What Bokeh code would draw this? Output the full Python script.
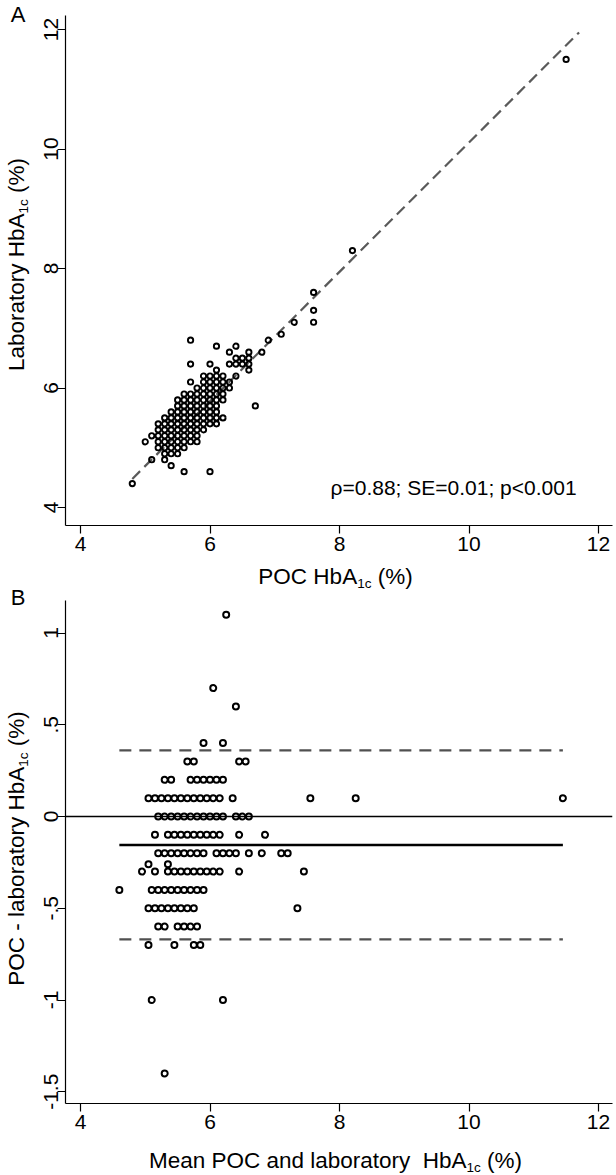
import math
from bokeh.plotting import figure
from bokeh.models import Label, Span, Range1d, FixedTicker
from bokeh.layouts import column, row
from bokeh.embed import file_html
from bokeh.resources import INLINE

FONT = "Liberation Sans"

# ---------------- data ----------------
x_ticks = [4, 6, 8, 10, 12]
a_y_ticks = [4, 6, 8, 10, 12]
b_y_ticks = [-1.5, -1, -0.5, 0, 0.5, 1]
b_y_tick_labels = ["-1.5", "-1", "-.5", "0", ".5", "1"]

# Panel A: laboratory HbA1c levels and the POC values observed at each level
lab_levels = [11.5, 8.3, 7.6, 7.3, 7.1, 6.9, 6.8, 6.7, 6.6, 6.5, 6.4, 6.3, 6.2, 6.1,
              6.0, 5.9, 5.8, 5.7, 5.6, 5.5, 5.4, 5.3, 5.2, 5.1, 5.0, 4.9, 4.8, 4.7,
              4.6, 4.4]
poc_per_level = [
    [11.5],
    [8.2],
    [7.6],
    [7.6],
    [7.3, 7.6],
    [7.1],
    [5.7, 6.9],
    [6.1, 6.4],
    [6.3, 6.6, 6.8],
    [6.4, 6.5, 6.6],
    [5.7, 6.0, 6.3, 6.4, 6.5, 6.6],
    [6.1, 6.6],
    [5.9, 6.0, 6.1, 6.2, 6.4],
    [5.7, 5.9, 6.0, 6.1, 6.2, 6.3],
    [5.8, 5.9, 6.0, 6.1, 6.2, 6.3],
    [5.6, 5.7, 5.8, 5.9, 6.0, 6.1, 6.2],
    [5.5, 5.6, 5.7, 5.8, 5.9, 6.0, 6.1, 6.2],
    [5.5, 5.6, 5.7, 5.8, 5.9, 6.0, 6.1, 6.7],
    [5.4, 5.5, 5.6, 5.7, 5.8, 5.9, 6.0, 6.1],
    [5.3, 5.4, 5.5, 5.6, 5.7, 5.8, 5.9, 6.0, 6.1, 6.2],
    [5.2, 5.3, 5.4, 5.5, 5.6, 5.7, 5.8, 5.9, 6.0, 6.1],
    [5.2, 5.3, 5.4, 5.5, 5.6, 5.7, 5.8, 5.9],
    [5.1, 5.2, 5.3, 5.4, 5.5, 5.6, 5.7, 5.8],
    [5.0, 5.2, 5.3, 5.4, 5.5, 5.6, 5.7, 5.8],
    [5.2, 5.3, 5.4, 5.5, 5.6],
    [5.3, 5.4, 5.5],
    [5.1, 5.3],
    [5.4],
    [5.6, 6.0],
    [4.8],
]
fit_intercept = -0.72
fit_slope = 1.083
fit_x_span = [4.8, 11.7]
stats_text = "\u03c1=0.88; SE=0.01; p<0.001"

# Panel B: differences (POC - lab) and the means observed at each difference
diff_levels = [1.1, 0.7, 0.6, 0.4, 0.3, 0.2, 0.1, 0.0, -0.1, -0.2, -0.26, -0.3,
               -0.4, -0.5, -0.6, -0.7, -1.0, -1.4]
mean_per_level = [
    [6.25],
    [6.05],
    [6.4],
    [5.9, 6.2],
    [5.65, 5.75, 6.45, 6.55],
    [5.3, 5.4, 5.7, 5.8, 5.9, 6.0, 6.1, 6.2],
    [5.05, 5.15, 5.25, 5.35, 5.45, 5.55, 5.65, 5.75, 5.85, 5.95, 6.05, 6.15,
     6.35, 7.55, 8.25, 11.45],
    [5.2, 5.3, 5.4, 5.5, 5.6, 5.7, 5.8, 5.9, 6.0, 6.1, 6.2, 6.4, 6.5, 6.6],
    [5.15, 5.35, 5.45, 5.55, 5.65, 5.75, 5.85, 5.95, 6.05, 6.15, 6.45, 6.85],
    [5.2, 5.3, 5.4, 5.5, 5.6, 5.7, 5.8, 5.9, 6.1, 6.2, 6.3, 6.4, 6.6, 6.8, 7.1, 7.2],
    [5.05, 5.35],
    [4.95, 5.15, 5.35, 5.45, 5.55, 5.65, 5.75, 5.85, 5.95, 6.05, 6.15, 6.45, 7.45],
    [4.6, 5.1, 5.2, 5.3, 5.4, 5.5, 5.6, 5.7, 5.8, 5.9],
    [5.05, 5.15, 5.25, 5.35, 5.45, 5.55, 5.65, 5.75, 7.35],
    [5.2, 5.3, 5.5, 5.6, 5.7, 5.8],
    [5.05, 5.45, 5.75, 5.85],
    [5.1, 6.2],
    [5.3],
]
bias = -0.155
loa_upper = 0.36
loa_lower = -0.67

# flatten
poc_a = [x for xs, y in zip(poc_per_level, lab_levels) for x in xs]
lab_a = [y for xs, y in zip(poc_per_level, lab_levels) for x in xs]
mean_b = [x for xs, y in zip(mean_per_level, diff_levels) for x in xs]
diff_b = [y for xs, y in zip(mean_per_level, diff_levels) for x in xs]

# ---------------- layout geometry (page pixels) ----------------
PXU_X = 64.75          # px per unit on x
X4_PAGE = 80.0         # page x of tick 4
A_PXU_Y = 59.75
A_Y4_PAGE = 507.0
B_PXU_Y = 183.5
B_Y0_PAGE = 816.0
FRAME_L, FRAME_R = 65.0, 612.0
LEFT_W = 30
TOTAL_W = 616
RIGHT_W = TOTAL_W - LEFT_W
BORDER_L = int(FRAME_L - LEFT_W)
BORDER_R = int(TOTAL_W - FRAME_R)
A_TOP, A_BOT, A_FIG_BOT = 15.0, 525.0, 563
A_TITLE_BOT = 592
B_TOP, B_BOT, B_FIG_BOT = 600.0, 1103.0, 1141
TOTAL_H = 1174

x_start = 4 + (FRAME_L - X4_PAGE) / PXU_X
x_end = 4 + (FRAME_R - X4_PAGE) / PXU_X

CW = {' ': 278, '(': 333, ')': 333, '%': 889, '-': 333, '.': 278, 'A': 667, 'B': 667,
      'C': 722, 'H': 722, 'L': 556, 'M': 833, 'O': 778, 'P': 667, 'E': 667, 'S': 667,
      'a': 556, 'b': 556, 'c': 500, 'd': 556, 'e': 556, 'l': 222, 'n': 556, 'o': 556,
      'r': 333, 't': 278, 'y': 500, 'p': 556, '=': 584, ';': 278, '<': 584}


def tw(s, size):
    return sum(CW.get(ch, 556) for ch in s) * size / 1000.0


TITLE = 22.5
SUB = 13.5
SUB_DROP = 6.5
SP = tw(" ", TITLE)


def lab(p, txt, x, y, size, angle=0.0, align="left", baseline="middle"):
    p.add_layout(Label(x=x, y=y, text=txt, text_font=FONT, text_font_size=f"{size}px",
                       text_align=align, text_baseline=baseline, text_color="black",
                       angle=angle))


def title_segments(main, gap_before_main):
    # main text pieces, subscript "1c", then "(%)" after a space
    segs = [(txt, TITLE, gap, 0) for txt, gap in zip(main, gap_before_main)]
    segs.append(("1c", SUB, 0, SUB_DROP))
    segs.append(("(%)", TITLE, SP, 0))
    return segs


def htitle(p, segs, cx, cy):
    total = sum(g + tw(t, s) for t, s, g, d in segs)
    x = cx - total / 2
    for t, s, g, d in segs:
        x += g
        lab(p, t, x, cy + d, s)
        x += tw(t, s)


def vtitle(p, segs, cx, cy):
    total = sum(g + tw(t, s) for t, s, g, d in segs)
    y = cy + total / 2
    for t, s, g, d in segs:
        y -= g
        lab(p, t, cx + d, y, s, angle=math.pi / 2)
        y -= tw(t, s)


def left_strip(w, h):
    # blank canvas whose data units are its own pixels (y downward)
    f = figure(width=w, height=h, x_range=Range1d(0, w), y_range=Range1d(h, 0),
               output_backend="svg", toolbar_location=None, x_axis_type=None,
               y_axis_type=None, min_border=0)
    f.outline_line_color = None
    return f


def title_strip(top, bottom):
    # blank canvas under a panel; x in page pixels over the panel frame, y in page pixels
    f = figure(width=RIGHT_W, height=bottom - top, x_range=Range1d(FRAME_L, FRAME_R),
               y_range=Range1d(bottom, top), output_backend="svg", toolbar_location=None,
               x_axis_type=None, y_axis_type=None, min_border_left=BORDER_L,
               min_border_right=BORDER_R, min_border_top=0, min_border_bottom=0)
    f.outline_line_color = None
    return f


def make_fig(height, y_range, top, bottom):
    p = figure(width=RIGHT_W, height=height, x_range=Range1d(x_start, x_end),
               y_range=Range1d(*y_range), output_backend="svg", toolbar_location=None,
               min_border_left=BORDER_L, min_border_right=BORDER_R,
               min_border_top=int(top), min_border_bottom=int(bottom))
    p.outline_line_color = None
    p.grid.visible = False
    for ax in (p.xaxis[0], p.yaxis[0]):
        ax.axis_line_color = "black"
        ax.axis_line_width = 1.2
        ax.major_tick_line_color = "black"
        ax.major_tick_line_width = 1.2
        ax.major_tick_out = 8
        ax.major_tick_in = 0
        ax.minor_tick_line_color = None
        ax.major_label_text_font = FONT
        ax.major_label_text_font_size = "21px"
        ax.major_label_text_color = "black"
    p.xaxis.ticker = FixedTicker(ticks=x_ticks)
    p.xaxis.major_label_standoff = 3
    p.yaxis.major_label_orientation = "vertical"
    p.yaxis.major_label_standoff = 0
    return p


# ---------------- Panel A ----------------
pA = make_fig(A_FIG_BOT,
              (4 + (A_Y4_PAGE - A_BOT) / A_PXU_Y, 4 + (A_Y4_PAGE - A_TOP) / A_PXU_Y),
              A_TOP, A_FIG_BOT - A_BOT)
pA.yaxis.ticker = FixedTicker(ticks=a_y_ticks)
fit_y = [fit_intercept + fit_slope * v for v in fit_x_span]
pA.line(fit_x_span, fit_y, line_color="#5a5a5a", line_width=2.2, line_dash="11 6")
pA.scatter(poc_a, lab_a, marker="circle", size=5.3, fill_color=None,
           line_color="black", line_width=1.9)
stats_x = 4 + (330 - X4_PAGE) / PXU_X
stats_y = 4 + (A_Y4_PAGE - 487) / A_PXU_Y
lab(pA, stats_text, stats_x, stats_y, 21)

tA_below = title_strip(A_FIG_BOT, A_TITLE_BOT)
htitle(tA_below, title_segments(["POC HbA"], [0]), 335, 576)

# ---------------- Panel B ----------------
B_H = B_FIG_BOT - A_TITLE_BOT
pB = make_fig(B_H, (-(B_BOT - B_Y0_PAGE) / B_PXU_Y, (B_Y0_PAGE - B_TOP) / B_PXU_Y),
              B_TOP - A_TITLE_BOT, B_FIG_BOT - B_BOT)
pB.yaxis.ticker = FixedTicker(ticks=b_y_ticks)
pB.yaxis.major_label_overrides = {t: s for t, s in zip(b_y_ticks, b_y_tick_labels)}
pB.add_layout(Span(location=0, dimension="width", line_color="black", line_width=1.3))
mx = [min(mean_b), max(mean_b)]
pB.line(mx, [loa_upper, loa_upper], line_color="#505050", line_width=2.2, line_dash="12 8")
pB.line(mx, [loa_lower, loa_lower], line_color="#505050", line_width=2.2, line_dash="12 8")
pB.line(mx, [bias, bias], line_color="black", line_width=2.6)
pB.scatter(mean_b, diff_b, marker="circle", size=6.0, fill_color=None,
           line_color="black", line_width=2.0)

tB_below = title_strip(B_FIG_BOT, TOTAL_H)
htitle(tB_below, title_segments(["Mean POC and laboratory", "HbA"], [0, 2 * SP]),
       335, 1160)

# ---------------- left strip: panel letters and y titles ----------------
t_left = left_strip(LEFT_W, TOTAL_H)
lab(t_left, "A", 17.5, 14, 22, align="center")
lab(t_left, "B", 17.5, 597, 22, align="center")
vtitle(t_left, title_segments(["Laboratory HbA"], [0]), 16, 264)
vtitle(t_left, title_segments(["POC - laboratory HbA"], [0]), 16, 848)

layout = row(t_left, column(pA, tA_below, pB, tB_below, spacing=0), spacing=0)
open("out.html", "w").write(file_html(layout, INLINE))
